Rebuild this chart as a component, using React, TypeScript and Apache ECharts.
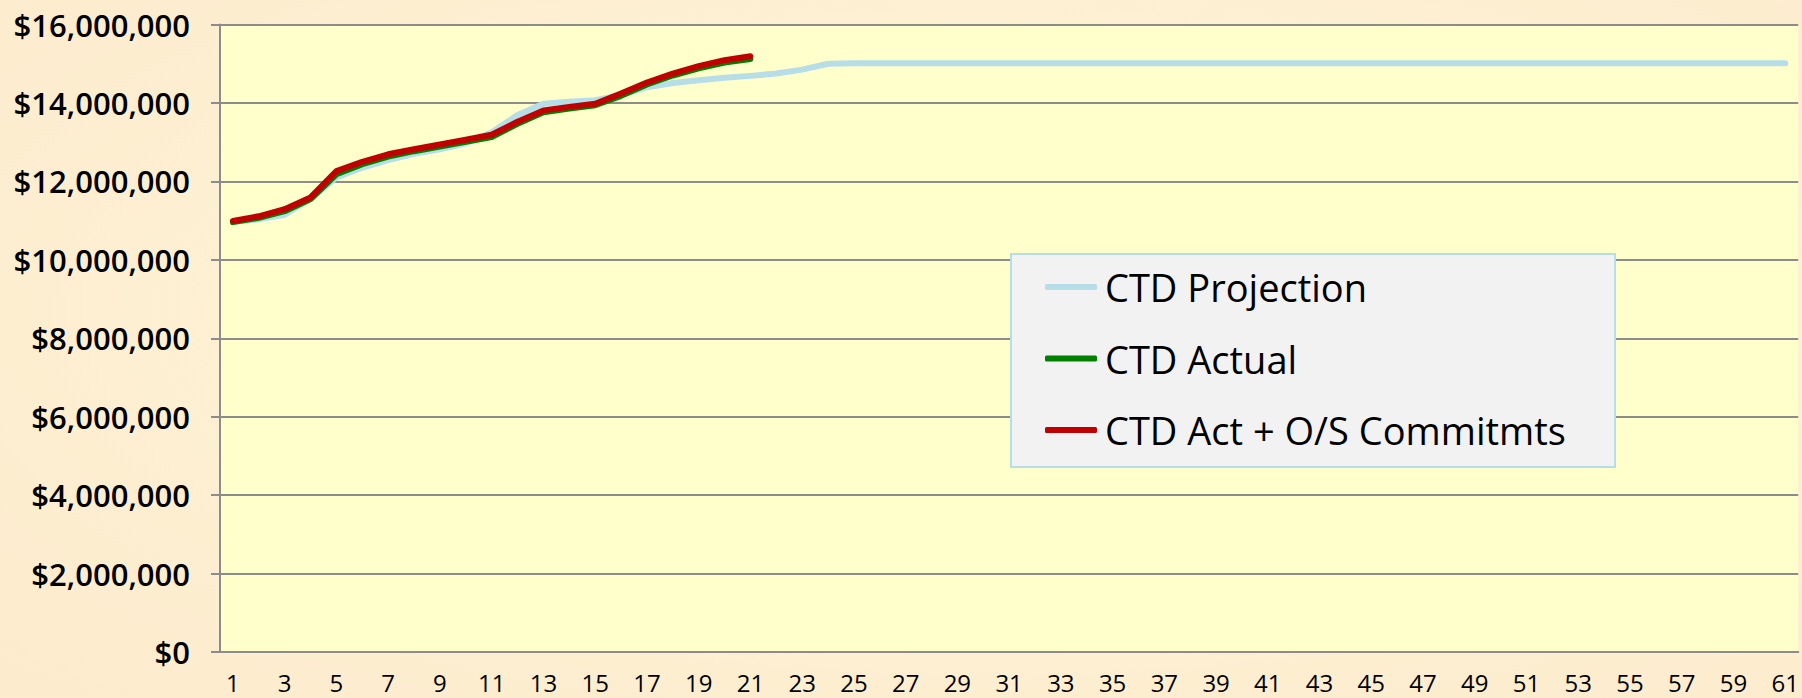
import React, { useEffect, useRef } from "react";
import * as echarts from "echarts";

const categories: string[] = [
  "1", "2", "3", "4", "5", "6", "7", "8", "9", "10",
  "11", "12", "13", "14", "15", "16", "17", "18", "19", "20",
  "21", "22", "23", "24", "25", "26", "27", "28", "29", "30",
  "31", "32", "33", "34", "35", "36", "37", "38", "39", "40",
  "41", "42", "43", "44", "45", "46", "47", "48", "49", "50",
  "51", "52", "53", "54", "55", "56", "57", "58", "59", "60", "61",
];

// values in $ millions
const projection: number[] = [
  10.97, 11.03, 11.15, 11.55, 12.1, 12.35, 12.54, 12.7, 12.82, 12.97,
  13.25, 13.69, 13.98, 14.03, 14.07, 14.2, 14.4, 14.51, 14.58, 14.64,
  14.69, 14.75, 14.85, 15.0, 15.01, 15.01, 15.01, 15.01, 15.01, 15.01,
  15.01, 15.01, 15.01, 15.01, 15.01, 15.01, 15.01, 15.01, 15.01, 15.01,
  15.01, 15.01, 15.01, 15.01, 15.01, 15.01, 15.01, 15.01, 15.01, 15.01,
  15.01, 15.01, 15.01, 15.01, 15.01, 15.01, 15.01, 15.01, 15.01, 15.01, 15.01,
];

const actual: number[] = [
  10.96, 11.07, 11.24, 11.55, 12.18, 12.44, 12.63, 12.77, 12.89, 13.01,
  13.13, 13.47, 13.76, 13.86, 13.94, 14.18, 14.47, 14.7, 14.88, 15.03, 15.12,
];

const commitments: number[] = [
  10.99, 11.11, 11.29, 11.59, 12.26, 12.5, 12.69, 12.82, 12.94, 13.06,
  13.19, 13.52, 13.81, 13.9, 13.98, 14.24, 14.52, 14.75, 14.94, 15.09, 15.19,
];

const seriesNames: string[] = ["CTD Projection", "CTD Actual", "CTD Act + O/S Commitmts"];

const M = 1000000;

function money(v: number): string {
  return "$" + String(Math.round(v)).replace(/\B(?=(\d{3})+(?!\d))/g, ",");
}

export default function App() {
  const ref = useRef<HTMLDivElement>(null);

  useEffect(() => {
    if (!ref.current) return;
    const chart = echarts.init(ref.current, null, { renderer: "svg" });
    const option: any = {
      animation: false,
      backgroundColor: {
        type: "radial",
        x: 0.55,
        y: 0.45,
        r: 0.75,
        colorStops: [
          { offset: 0, color: "#fff6da" },
          { offset: 1, color: "#fdebcd" },
        ],
      },
      grid: {
        left: 220,
        right: 2,
        top: 24.5,
        bottom: 46,
        show: true,
        backgroundColor: "#ffffcc",
        borderWidth: 0,
      },
      legend: {
        orient: "vertical",
        left: 1040,
        top: 260,
        itemWidth: 52,
        itemHeight: 6,
        itemGap: 27.5,
        icon: "roundRect",
        z: 10,
        selectedMode: false,
        data: seriesNames,
        textStyle: {
          fontFamily: "Open Sans",
          fontSize: 38,
          color: "#000",
          lineHeight: 44,
          padding: [0, 0, 0, 3],
        },
      },
      graphic: [
        {
          type: "rect",
          z: 5,
          shape: { x: 1011, y: 254, width: 604, height: 213 },
          style: { fill: "#f2f2f2", stroke: "#b7dde8", lineWidth: 2 },
        },
      ],
      xAxis: {
        type: "category",
        data: categories,
        boundaryGap: true,
        axisLine: { lineStyle: { color: "#8c8c8c", width: 2 } },
        axisTick: {
          interval: 0,
          length: 8,
          lineStyle: { color: "#8c8c8c", width: 2 },
        },
        axisLabel: {
          interval: 1,
          margin: 21,
          fontFamily: "Open Sans",
          fontSize: 24,
          lineHeight: 18,
          color: "#000",
        },
      },
      yAxis: {
        type: "value",
        min: 0,
        max: 16 * M,
        interval: 2 * M,
        axisLine: { show: true, lineStyle: { color: "#8c8c8c", width: 2 } },
        axisTick: { show: true, length: 9, lineStyle: { color: "#8c8c8c", width: 2 } },
        splitLine: { lineStyle: { color: "#8c8c8c", width: 2 } },
        axisLabel: {
          margin: 30,
          fontFamily: "Open Sans",
          fontWeight: 600,
          fontSize: 31,
          color: "#000",
          formatter: (v: number) => money(v),
        },
      },
      series: [
        {
          name: seriesNames[0],
          type: "line",
          data: projection.map((v) => v * M),
          symbol: "none",
          color: "#b7dde8",
          lineStyle: { width: 6, color: "#b7dde8", cap: "round", join: "round" },
          z: 2,
        },
        {
          name: seriesNames[1],
          type: "line",
          data: actual.map((v) => v * M),
          symbol: "none",
          color: "#008000",
          lineStyle: { width: 6, color: "#008000", cap: "round", join: "round" },
          z: 3,
        },
        {
          name: seriesNames[2],
          type: "line",
          data: commitments.map((v) => v * M),
          symbol: "none",
          color: "#c00000",
          lineStyle: { width: 6, color: "#c00000", cap: "round", join: "round" },
          z: 4,
        },
      ],
    };
    chart.setOption(option);
    return () => chart.dispose();
  }, []);

  return (
    <div
      ref={ref}
      style={{ position: "absolute", left: 0, top: 0, width: 1802, height: 698 }}
    />
  );
}
